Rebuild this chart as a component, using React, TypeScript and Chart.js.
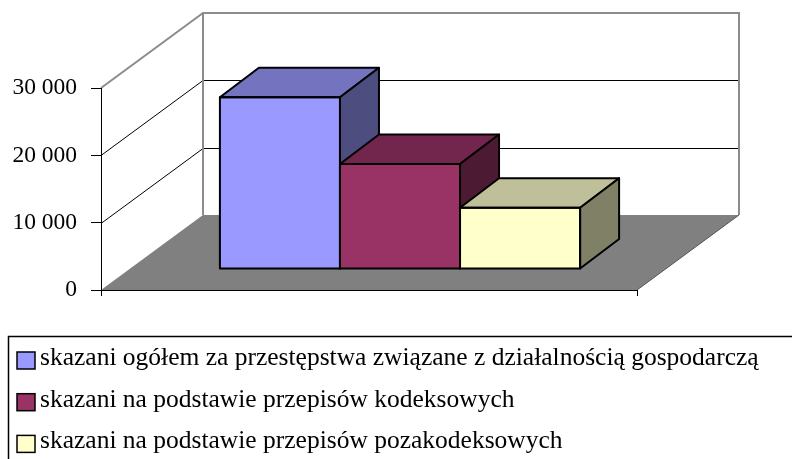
import React, { useEffect, useRef } from 'react';
import { Chart, registerables } from 'chart.js';

Chart.register(...registerables);

const categories = [''];
const seriesLabels = [
  'skazani ogółem za przestępstwa związane z działalnością gospodarczą',
  'skazani na podstawie przepisów kodeksowych',
  'skazani na podstawie przepisów pozakodeksowych',
];
const seriesValues = [25500, 15600, 9100];
const seriesColors = ['#9999FF', '#993366', '#FFFFCC'];
const yTickValues = [0, 10000, 20000, 30000];
const yTickLabels = ['0', '10 000', '20 000', '30 000'];

const W = 792;
const H = 459;
const DEPTH = { dx: 102, dy: -75 };
const BAR_SHIFT = { dx: 31, dy: -21 };
const BAR_DEPTH = { dx: 39, dy: -29.5 };
const FONT = '"Liberation Serif", "Times New Roman", serif';

function shade(hex: string, f: number): string {
  const n = parseInt(hex.slice(1), 16);
  const r = Math.round(((n >> 16) & 255) * f);
  const g = Math.round(((n >> 8) & 255) * f);
  const b = Math.round((n & 255) * f);
  return `rgb(${r},${g},${b})`;
}

const box3d = {
  id: 'box3d',
  beforeDraw(chart: any) {
    const { ctx, chartArea: a } = chart;
    const y = chart.scales.y;
    ctx.save();
    ctx.fillStyle = '#ffffff';
    ctx.fillRect(0, 0, chart.width, chart.height);
    // floor
    ctx.fillStyle = '#808080';
    ctx.beginPath();
    ctx.moveTo(a.left, a.bottom);
    ctx.lineTo(a.right, a.bottom);
    ctx.lineTo(a.right + DEPTH.dx, a.bottom + DEPTH.dy);
    ctx.lineTo(a.left + DEPTH.dx, a.bottom + DEPTH.dy);
    ctx.closePath();
    ctx.fill();
    // grid lines on side and back walls
    ctx.strokeStyle = '#000000';
    ctx.lineWidth = 1;
    y.ticks.forEach((t: any) => {
      if (t.value <= y.min || t.value >= y.max) return;
      const py = Math.round(y.getPixelForValue(t.value)) + 0.5;
      ctx.beginPath();
      ctx.moveTo(a.left, py);
      ctx.lineTo(a.left + DEPTH.dx, py + DEPTH.dy);
      ctx.lineTo(a.right + DEPTH.dx, py + DEPTH.dy);
      ctx.stroke();
    });
    // wall outline
    ctx.strokeStyle = '#8c8c8c';
    ctx.lineWidth = 2;
    ctx.beginPath();
    ctx.moveTo(a.left, a.top);
    ctx.lineTo(a.left + DEPTH.dx, a.top + DEPTH.dy);
    ctx.lineTo(a.right + DEPTH.dx, a.top + DEPTH.dy);
    ctx.lineTo(a.right + DEPTH.dx, a.bottom + DEPTH.dy);
    ctx.moveTo(a.left + DEPTH.dx, a.top + DEPTH.dy);
    ctx.lineTo(a.left + DEPTH.dx, a.bottom + DEPTH.dy);
    ctx.stroke();
    // floor right edge
    ctx.strokeStyle = '#555555';
    ctx.lineWidth = 1;
    ctx.beginPath();
    ctx.moveTo(a.right, a.bottom);
    ctx.lineTo(a.right + DEPTH.dx, a.bottom + DEPTH.dy);
    ctx.stroke();
    // x axis line with category boundary ticks
    ctx.strokeStyle = '#000000';
    ctx.lineWidth = 1;
    const by = Math.round(a.bottom) + 0.5;
    ctx.beginPath();
    ctx.moveTo(a.left, by);
    ctx.lineTo(a.right, by);
    [a.left, a.right].forEach((px: number) => {
      const xx = Math.round(px) + 0.5;
      ctx.moveTo(xx, a.bottom);
      ctx.lineTo(xx, a.bottom + 6);
    });
    ctx.stroke();
    ctx.restore();
  },
  beforeDatasetsDraw(chart: any) {
    chart.ctx.save();
    chart.ctx.translate(BAR_SHIFT.dx, BAR_SHIFT.dy);
  },
  afterDatasetsDraw(chart: any) {
    const ctx = chart.ctx;
    chart.data.datasets.forEach((ds: any, i: number) => {
      const meta = chart.getDatasetMeta(i);
      const base = ds.backgroundColor as string;
      meta.data.forEach((el: any) => {
        el.draw(ctx);
        const { x, y, base: b, width } = el.getProps(['x', 'y', 'base', 'width'], true);
        const l = x - width / 2;
        const r = x + width / 2;
        ctx.save();
        ctx.lineWidth = 2;
        ctx.strokeStyle = '#000000';
        ctx.lineJoin = 'round';
        // top face
        ctx.fillStyle = shade(base, 0.75);
        ctx.beginPath();
        ctx.moveTo(l, y);
        ctx.lineTo(r, y);
        ctx.lineTo(r + BAR_DEPTH.dx, y + BAR_DEPTH.dy);
        ctx.lineTo(l + BAR_DEPTH.dx, y + BAR_DEPTH.dy);
        ctx.closePath();
        ctx.fill();
        ctx.stroke();
        // side face
        ctx.fillStyle = shade(base, 0.5);
        ctx.beginPath();
        ctx.moveTo(r, y);
        ctx.lineTo(r + BAR_DEPTH.dx, y + BAR_DEPTH.dy);
        ctx.lineTo(r + BAR_DEPTH.dx, b + BAR_DEPTH.dy);
        ctx.lineTo(r, b);
        ctx.closePath();
        ctx.fill();
        ctx.stroke();
        // front outline
        ctx.strokeRect(l, y, width, b - y);
        ctx.restore();
      });
    });
    ctx.restore();
  },
  afterDraw(chart: any) {
    const ctx = chart.ctx;
    ctx.save();
    // legend
    ctx.strokeStyle = '#000000';
    ctx.lineWidth = 1.5;
    ctx.beginPath();
    ctx.moveTo(8.5, H + 2);
    ctx.lineTo(8.5, 336.5);
    ctx.lineTo(W + 2, 336.5);
    ctx.stroke();
    ctx.font = `25.5px ${FONT}`;
    ctx.textBaseline = 'alphabetic';
    ctx.textAlign = 'left';
    chart.data.datasets.forEach((ds: any, i: number) => {
      const yb = 365 + i * 41.7;
      ctx.fillStyle = ds.backgroundColor;
      ctx.fillRect(17, yb - 13, 18, 17);
      ctx.lineWidth = 1.5;
      ctx.strokeStyle = '#000000';
      ctx.strokeRect(17, yb - 13, 18, 17);
      ctx.fillStyle = '#000000';
      ctx.fillText(ds.label, 40, yb);
    });
    ctx.restore();
  },
};

export default function App() {
  const ref = useRef<HTMLCanvasElement | null>(null);
  useEffect(() => {
    if (!ref.current) return;
    const chart = new Chart(ref.current, {
      type: 'bar',
      data: {
        labels: categories,
        datasets: seriesLabels.map((label, i) => ({
          label,
          data: [seriesValues[i]],
          backgroundColor: seriesColors[i],
          borderColor: '#000000',
          borderWidth: 0,
          barPercentage: 1,
          categoryPercentage: 0.672,
          clip: false as any,
        })),
      },
      options: {
        responsive: false,
        animation: false,
        layout: { padding: { top: 88, right: 155, bottom: 169, left: 0 } },
        plugins: {
          legend: { display: false },
          tooltip: { enabled: false },
        },
        scales: {
          x: {
            display: false,
          },
          y: {
            min: 0,
            max: 30000,
            afterBuildTicks: (s: any) => { s.ticks = yTickValues.map((v) => ({ value: v })); },
            ticks: {
              stepSize: 10000,
              padding: 14,
              color: '#000000',
              font: { family: FONT, size: 23.5 },
              callback: (v: any) => {
                const k = yTickValues.indexOf(Number(v));
                return k >= 0 ? yTickLabels[k] : '';
              },
            },
            grid: { drawOnChartArea: false, drawTicks: true, tickLength: 10, color: '#000000' },
            border: { display: true, color: '#000000', width: 1 },
            afterFit: (s: any) => { s.width = 101; },
          },
        },
      },
      plugins: [box3d],
    });
    return () => chart.destroy();
  }, []);
  return (
    <div style={{ position: 'fixed', left: 0, top: 0, width: W, height: H }}>
      <canvas ref={ref} width={W} height={H} style={{ width: W, height: H, display: 'block' }} />
    </div>
  );
}
